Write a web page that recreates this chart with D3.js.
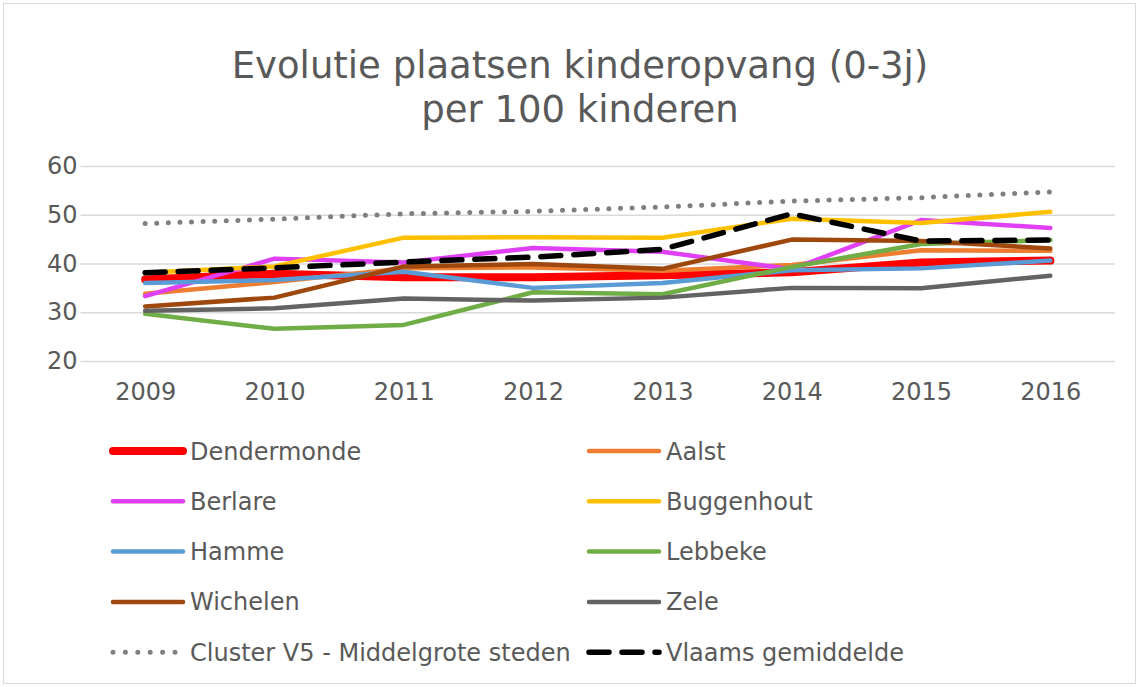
<!DOCTYPE html>
<html lang="nl">
    <head>
        <meta charset="utf-8" />
        <title>Evolutie plaatsen kinderopvang</title>
        <script src="https://d3js.org/d3.v7.min.js"></script>
        <style>
            html, body { margin:0; padding:0; overflow:hidden; background-color:#ffffff }
            svg { display:block }
            text { font-family: "DejaVu Sans", Verdana, sans-serif; fill:#595959 }
        </style>
    </head>
    <body>
        <svg id="svg" width="1139" height="687"></svg>
        <script>

            // data
            let years = ["2009","2010","2011","2012","2013","2014","2015","2016"];
            let yTicks = [20, 30, 40, 50, 60];

            let dendermonde = [36.7, 37.9, 37.2, 37.2, 37.6, 38.2, 40.2, 40.6];
            let aalst       = [33.8, 36.2, 39.0, 39.2, 38.5, 39.7, 42.7, 42.6];
            let berlare     = [33.3, 41.0, 40.2, 43.2, 42.4, 38.8, 48.9, 47.3];
            let buggenhout  = [38.1, 39.4, 45.3, 45.4, 45.3, 49.2, 48.3, 50.6];
            let hamme       = [36.0, 36.6, 38.3, 35.0, 36.0, 38.6, 39.0, 40.6];
            let lebbeke     = [29.7, 26.6, 27.4, 34.1, 33.7, 39.3, 44.0, 44.8];
            let wichelen    = [31.2, 33.0, 39.4, 39.9, 38.9, 44.9, 44.6, 43.1];
            let zele        = [30.3, 30.8, 32.8, 32.4, 33.0, 35.0, 34.9, 37.5];
            let cluster     = [48.2, 49.1, 50.2, 50.7, 51.6, 52.8, 53.5, 54.7];
            let vlaams      = [38.1, 39.1, 40.3, 41.3, 42.9, 50.2, 44.6, 44.8];

            let series = [
                {name:"Dendermonde", values:dendermonde, color:"#ff0000", width:8},
                {name:"Aalst", values:aalst, color:"#ed7d31", width:4.5},
                {name:"Berlare", values:berlare, color:"#e040f5", width:4.5},
                {name:"Buggenhout", values:buggenhout, color:"#ffc000", width:4.5},
                {name:"Hamme", values:hamme, color:"#5b9bd5", width:4.5},
                {name:"Lebbeke", values:lebbeke, color:"#70ad47", width:4.5},
                {name:"Wichelen", values:wichelen, color:"#9e480e", width:4.5},
                {name:"Zele", values:zele, color:"#636363", width:4.5},
                {name:"Cluster V5 - Middelgrote steden", values:cluster, color:"#7f7f7f", width:5, dash:"0 11.6"},
                {name:"Vlaams gemiddelde", values:vlaams, color:"#000000", width:5.5, dash:"20 13"}
            ];

            let svg = d3.select("svg");
            let width = 1139, height = 687;

            // chart border
            svg.append("rect")
                .attr("x", 3.5).attr("y", 3.5)
                .attr("width", width - 7).attr("height", height - 7)
                .attr("fill", "none")
                .attr("stroke", "#d9d9d9")
                .attr("stroke-width", 1);

            let xscale = d3.scalePoint()
                .domain(years)
                .range([80.5, 1115])
                .padding(0.5);

            let yscale = d3.scaleLinear()
                .domain([20, 60])
                .range([361, 166]);

            // title
            let title = svg.append("text")
                .attr("text-anchor", "middle")
                .style("font-size", "37px");
            title.append("tspan").attr("x", 580).attr("y", 78).text("Evolutie plaatsen kinderopvang (0-3j)");
            title.append("tspan").attr("x", 580).attr("y", 121.5).text("per 100 kinderen");

            // gridlines + y labels
            let yAxis = d3.axisLeft(yscale)
                .tickValues(yTicks)
                .tickSize(-(1115 - 80.5))
                .tickPadding(10);

            let gy = svg.append("g")
                .attr("transform", "translate(80.5,0)")
                .call(yAxis);
            gy.select(".domain").remove();
            gy.selectAll(".tick line")
                .attr("stroke", "#d9d9d9")
                .attr("stroke-width", 1.5);
            gy.selectAll(".tick text")
                .attr("x", -3)
                .style("font-size", "24px")
                .style("font-family", "DejaVu Sans, Verdana, sans-serif")
                .attr("fill", "#595959");

            // x labels
            let xAxis = d3.axisBottom(xscale)
                .tickSize(0)
                .tickPadding(22);
            let gx = svg.append("g")
                .attr("transform", "translate(0,361)")
                .call(xAxis);
            gx.select(".domain").remove();
            gx.selectAll(".tick text")
                .style("font-size", "24px")
                .style("font-family", "DejaVu Sans, Verdana, sans-serif")
                .attr("fill", "#595959");

            // lines
            let line = d3.line()
                .x((d, i) => xscale(years[i]))
                .y(d => yscale(d));

            let lines = svg.append("g");
            series.forEach(s => {
                lines.append("path")
                    .attr("d", line(s.values))
                    .attr("fill", "none")
                    .attr("stroke", s.color)
                    .attr("stroke-width", s.width)
                    .attr("stroke-linecap", "round")
                    .attr("stroke-linejoin", "round")
                    .attr("stroke-dasharray", s.dash || null);
            });

            // legend, two columns
            let legend = svg.append("g");
            series.forEach((s, i) => {
                let col = i % 2;
                let row = Math.floor(i / 2);
                let x0 = col === 0 ? 113 : 589;
                let y0 = 451 + row * 50.3;
                let item = legend.append("g").attr("transform", "translate(" + x0 + "," + y0 + ")");
                item.append("line")
                    .attr("x1", 0).attr("x2", s.dash === "0 11.6" ? 62 : 70)
                    .attr("y1", 0).attr("y2", 0)
                    .attr("stroke", s.color)
                    .attr("stroke-width", s.width)
                    .attr("stroke-linecap", "round")
                    .attr("stroke-dasharray", s.dash === "0 11.6" ? "0 12.4" : (s.dash ? "20 13" : null));
                item.append("text")
                    .attr("x", 77)
                    .attr("y", 8.5)
                    .style("font-size", "24px")
                    .text(s.name);
            });

        </script>
    </body>
</html>
